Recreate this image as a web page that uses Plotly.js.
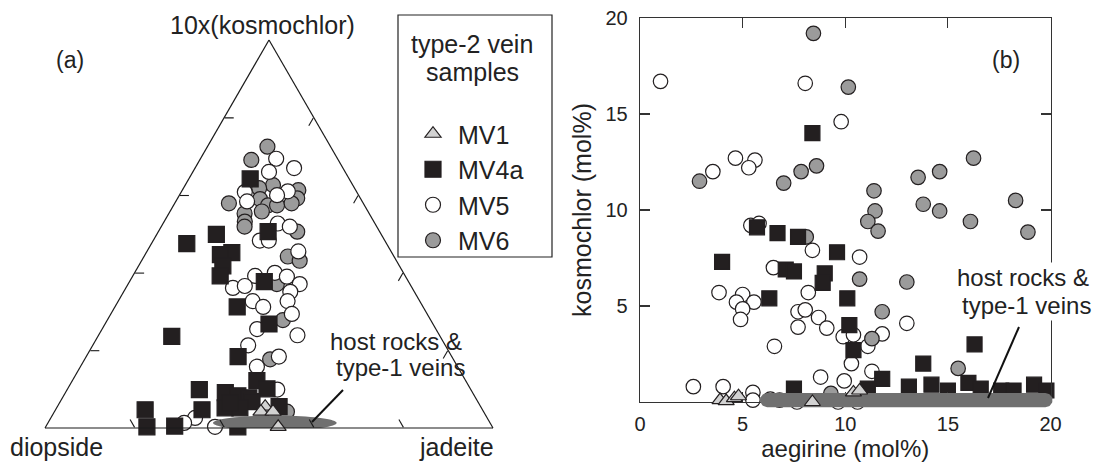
<!DOCTYPE html>
<html>
<head>
<meta charset="utf-8">
<script src="https://cdn.plot.ly/plotly-3.0.1.min.js"></script>
<style>html,body{margin:0;padding:0;background:#fff;}#chart{width:1098px;height:463px;}</style>
</head>
<body>
<div id="chart"></div>
<script>
// ---------- Panel (a): ternary, a = 10x(kosmochlor), c = jadeite (normalised %, diopside = remainder)
const mv1_tern_a = [5.5, 4.2, 4.2, 0.3];
const mv1_tern_c = [46.4, 46.1, 48.8, 51.9];

const mv4a_tern_a = [64.2, 49.9, 47.5, 45.2, 44.7, 41.8, 39.2, 50.6, 37.7, 31.2, 26.8, 23.6, 18.4, 12.2, 10.1, 9.9, 9.1, 8.3, 7.8, 6.8, 5.2, 5.2, 4.7, 5.5, 4.7, 0.5, 0.3, 0.3, 6.5];
const mv4a_tern_c = [13.7, 13.3, 7.9, 19.1, 16.8, 18.8, 19.5, 24.5, 30.1, 27.3, 36.6, 16.5, 33.9, 41.2, 44.5, 29.5, 35.7, 38.9, 41.6, 42.8, 37.6, 40.9, 32.7, 49.5, 20.0, 28.7, 22.6, 42.9, 38.1];

const mv5_tern_a = [69.4, 67.0, 66.0, 60.8, 61.0, 60.0, 58.4, 52.7, 51.9, 48.3, 48.3, 45.5, 39.2, 40.0, 39.0, 37.1, 36.1, 36.6, 35.1, 32.7, 32.7, 31.2, 29.4, 25.5, 23.9, 21.3, 18.4, 15.8, 9.9, 8.1, 2.6, 1.3, 0.3];
const mv5_tern_c = [16.9, 22.1, 17.0, 14.2, 23.7, 21.8, 15.9, 25.6, 28.7, 23.8, 25.8, 33.8, 27.3, 31.3, 34.5, 38.3, 23.9, 26.3, 37.2, 30.0, 37.8, 33.1, 40.4, 34.6, 44.4, 34.7, 43.0, 39.4, 46.9, 39.3, 32.2, 30.4, 37.8];

const mv6_tern_a = [72.5, 69.1, 62.6, 61.8, 61.3, 59.2, 57.9, 59.0, 57.4, 57.4, 57.9, 55.3, 55.8, 53.2, 51.9, 50.6, 44.2, 43.1, 37.1, 27.8, 17.7, 4.2];
const mv6_tern_c = [13.4, 11.5, 19.6, 16.9, 25.9, 26.7, 12.1, 18.5, 21.1, 23.1, 26.1, 16.9, 20.5, 18.0, 18.6, 31.0, 32.1, 35.3, 33.2, 39.2, 41.4, 51.9];

// ---------- Panel (b): aegirine (x) vs kosmochlor (y), mol%
const mv1_aeg = [3.9, 4.2, 4.6, 4.8, 8.4, 10.4, 10.7];
const mv1_ko  = [0.1, 0.05, 0.2, 0.3, 0.0, 0.5, 0.6];

const mv4a_aeg = [8.4, 5.7, 6.7, 7.7, 4.0, 7.1, 7.5, 9.6, 9.0, 8.9, 6.3, 10.1, 10.2, 10.4, 16.3, 13.8, 11.8, 7.5, 11.1, 13.1, 14.2, 15.0, 16.0, 16.6, 17.6, 18.2, 19.2, 19.8, 18.3, 14.5];
const mv4a_ko  = [14.0, 9.1, 8.8, 8.6, 7.3, 6.9, 6.8, 7.8, 6.7, 6.2, 5.4, 5.4, 4.0, 2.7, 3.0, 2.0, 1.2, 0.7, 0.7, 0.8, 0.9, 0.6, 1.0, 0.7, 0.6, 0.6, 0.9, 0.6, -0.1, -0.1];

const mv5_aeg = [1.0, 8.05, 9.8, 3.55, 4.65, 5.6, 5.3, 5.4, 5.8, 8.4, 6.5, 10.7, 3.85, 5.0, 4.7, 5.55, 5.0, 4.9, 8.2, 7.7, 8.05, 7.7, 8.7, 9.1, 9.9, 10.4, 11.1, 6.55, 10.3, 11.3, 8.8, 9.95, 13.0, 11.8, 2.6, 4.05, 5.5, 5.5, 6.35, 6.8, 7.65, 9.65, 10.6, 12.2, 13.1, 13.9];
const mv5_ko  = [16.7, 16.6, 14.6, 12.0, 12.7, 12.6, 12.2, 9.2, 9.3, 7.9, 7.0, 7.55, 5.7, 5.6, 5.2, 5.2, 4.85, 4.3, 5.7, 4.7, 4.8, 3.9, 4.4, 3.85, 3.4, 3.5, 2.9, 2.9, 2.0, 1.6, 1.3, 1.1, 4.1, 3.55, 0.8, 0.8, 0.5, 0.1, 0.15, 0.1, 0.0, 0.0, 0.0, -0.05, -0.05, -0.05];

const mv6_aeg = [8.45, 10.15, 2.9, 7.0, 7.85, 8.6, 8.1, 16.25, 13.55, 14.6, 11.4, 11.45, 11.1, 11.6, 13.8, 14.6, 16.1, 18.3, 18.9, 10.7, 13.0, 11.8, 11.3, 15.5, 9.3];
const mv6_ko  = [19.2, 16.4, 11.5, 11.4, 12.0, 12.3, 8.6, 12.7, 11.7, 12.0, 11.0, 9.95, 9.4, 8.9, 10.3, 9.95, 9.4, 10.5, 8.85, 6.4, 6.25, 4.7, 3.3, 1.75, 0.45];

const xTicks = [0, 5, 10, 15, 20];
const yTicks = [5, 10, 15, 20];
const legendTitleLines = ['type-2 vein', 'samples'];

// host rocks & type-1 veins field (outline parameters)
const hostTern = {a0: 1.3, x0: 51.3, rx: 13.8, ra: 1.9};        // ternary units
const hostXY = {x0: 5.85, x1: 20.1, yc: 0.1, ry: 0.37, rx: 0.35};  // data units

// ---------- styles
const FONT = 'Liberation Sans, Arial, Helvetica, sans-serif';
const OUT = '#231f20';
const sty = {
  MV1:  {symbol: 'triangle-up', color: '#d2d2d2', sizeA: 14, sizeB: 14},
  MV4a: {symbol: 'square', color: '#231f20', sizeA: 16, sizeB: 15},
  MV5:  {symbol: 'circle', color: '#ffffff', sizeA: 15, sizeB: 14.5},
  MV6:  {symbol: 'circle', color: '#9b9b9b', sizeA: 15, sizeB: 14.5}
};

function ternTrace(name, a, c, rank) {
  const s = sty[name];
  return {type: 'scatterternary', mode: 'markers', name: name, a: a, c: c, subplot: 'ternary',
    legendgroup: name, legendrank: rank, cliponaxis: false, hoverinfo: 'a+c+name',
    marker: {symbol: s.symbol, size: s.sizeA, color: s.color, line: {color: OUT, width: 1.2}}};
}
function xyTrace(name, x, y, xa, ya) {
  const s = sty[name];
  return {type: 'scatter', mode: 'markers', name: name, x: x, y: y, xaxis: xa || 'x', yaxis: ya || 'y',
    legendgroup: name, showlegend: false, cliponaxis: false,
    marker: {symbol: s.symbol, size: s.sizeB, color: s.color, line: {color: OUT, width: 1.2}}};
}

// host field outlines
const hA = [], hC = [];
for (let i = 0; i <= 72; i++) {
  const t = 2 * Math.PI * i / 72;
  const a = hostTern.a0 + hostTern.ra * Math.sin(t);
  const x = hostTern.x0 + hostTern.rx * Math.cos(t);
  hA.push(a); hC.push(x - a / 2);
}
const hX = [], hY = [];
for (let i = 0; i <= 24; i++) {
  const t = -Math.PI / 2 + Math.PI * i / 24;
  hX.push(hostXY.x1 - hostXY.rx + hostXY.rx * Math.cos(t)); hY.push(hostXY.yc + hostXY.ry * Math.sin(t));
}
for (let i = 0; i <= 24; i++) {
  const t = Math.PI / 2 + Math.PI * i / 24;
  hX.push(hostXY.x0 + hostXY.rx + hostXY.rx * Math.cos(t)); hY.push(hostXY.yc + hostXY.ry * Math.sin(t));
}

const data = [
  ternTrace('MV6', mv6_tern_a, mv6_tern_c, 4),
  ternTrace('MV5', mv5_tern_a, mv5_tern_c, 3),
  ternTrace('MV4a', mv4a_tern_a, mv4a_tern_c, 2),
  {type: 'scatterternary', mode: 'lines', a: hA, c: hC, fill: 'toself', fillcolor: '#707070',
   line: {width: 0, color: '#707070'}, showlegend: false, hoverinfo: 'skip', subplot: 'ternary'},
  ternTrace('MV1', mv1_tern_a, mv1_tern_c, 1),
  xyTrace('MV5', mv5_aeg, mv5_ko),
  xyTrace('MV6', mv6_aeg, mv6_ko),
  xyTrace('MV4a', mv4a_aeg, mv4a_ko),
  // band + MV1 on a twin subplot (same scale) whose clip area reaches a little below y = 0
  {type: 'scatter', mode: 'lines', x: hX, y: hY, fill: 'toself', fillcolor: '#707070',
   line: {width: 0, color: '#707070'}, showlegend: false, hoverinfo: 'skip', xaxis: 'x2', yaxis: 'y2'},
  xyTrace('MV1', mv1_aeg, mv1_ko, 'x2', 'y2')
];

const W = 1098, H = 463;
const px = v => v / W, py = v => 1 - v / H;
// panel (b) geometry: x 0..20 -> 640..1050.5 px ; y 0..20 -> 402..18 px
const XL = 640, XR = 1050.5, YB = 402, YT = 18;
const sx = (XR - XL) / 20, sy = (YB - YT) / 20;
const XR2 = 1062, YB2 = 412;

const tAxis = {showline: true, linecolor: '#1a1a1a', linewidth: 1.2, showgrid: false,
  ticks: 'inside', ticklen: 9, tickwidth: 1.1, tickcolor: '#1a1a1a',
  tickmode: 'array', tickvals: [20, 40, 60, 80], showticklabels: false, title: {text: ''}};

const cAxis = {showline: true, linecolor: '#333', linewidth: 1.3, mirror: 'ticks', ticks: 'inside',
  ticklen: 10, tickwidth: 1.2, tickcolor: '#333', showgrid: false, zeroline: false,
  tickfont: {family: FONT, size: 20, color: '#222'}};

const ann = (text, x, y, size, extra) => Object.assign({text: text, x: px(x), y: py(y), xref: 'paper', yref: 'paper',
  showarrow: false, xanchor: 'center', yanchor: 'middle', font: {size: size}}, extra || {});

const layout = {
  width: W, height: H, margin: {l: 0, r: 0, t: 0, b: 0},
  paper_bgcolor: '#fff', plot_bgcolor: 'rgba(0,0,0,0)',
  font: {family: FONT, color: '#222'},
  showlegend: true,
  ternary: {
    domain: {x: [px(45), px(493)], y: [py(428), py(40)]},
    sum: 100, bgcolor: '#fff',
    aaxis: tAxis, baxis: tAxis, caxis: tAxis
  },
  xaxis: Object.assign({}, cAxis, {domain: [px(XL), px(XR)], range: [0, 20], tickmode: 'array', tickvals: xTicks,
    ticklabelstandoff: 4,
    title: {text: 'aegirine (mol%)', font: {family: FONT, size: 24, color: '#222'}, standoff: 2}}),
  yaxis: Object.assign({}, cAxis, {domain: [py(YB), py(YT)], range: [0, 20], tickmode: 'array', tickvals: yTicks,
    ticklabelstandoff: 7,
    title: {text: 'kosmochlor (mol%)', font: {family: FONT, size: 25, color: '#222'}, standoff: 6}}),
  xaxis2: {domain: [px(XL), px(XR2)], range: [0, (XR2 - XL) / sx], visible: false, anchor: 'y2', fixedrange: true},
  yaxis2: {domain: [py(YB2), py(YT)], range: [-(YB2 - YB) / sy, 20], visible: false, anchor: 'x2', fixedrange: true},
  legend: {x: px(398), y: py(111), xanchor: 'left', yanchor: 'top', bgcolor: 'rgba(0,0,0,0)',
    borderwidth: 0, font: {family: FONT, size: 25, color: '#222'},
    traceorder: 'grouped', tracegroupgap: 0, indentation: 10, itemwidth: 40},
  shapes: [
    {type: 'rect', xref: 'paper', yref: 'paper', x0: px(398), y0: py(257), x1: px(552), y1: py(15), line: {color: '#222', width: 1.2}, fillcolor: 'rgba(0,0,0,0)'},
    {type: 'line', xref: 'paper', yref: 'paper', x0: px(312), y0: py(422), x1: px(343), y1: py(390), line: {color: '#111', width: 2}},
    {type: 'line', xref: 'paper', yref: 'paper', x0: px(988), y0: py(398), x1: px(1019), y1: py(327), line: {color: '#111', width: 2}}
  ],
  annotations: [
    ann('10x(kosmochlor)', 262, 25, 25),
    ann('diopside', 8, 447, 25, {xanchor: 'left'}),
    ann('jadeite', 456, 447, 25),
    ann('(a)', 70, 60, 23),
    ann('(b)', 1006, 60, 23),
    ann(legendTitleLines[0], 472, 44, 25),
    ann(legendTitleLines[1], 472, 72, 25),
    ann('host rocks &', 396, 341, 24),
    ann('type-1 veins', 400, 367, 24),
    ann('host rocks &', 1023, 277, 24, {bgcolor: '#fff'}),
    ann('type-1 veins', 1026, 305, 24, {bgcolor: '#fff'})
  ]
};

Plotly.newPlot('chart', data, layout, {displayModeBar: false, staticPlot: true});
</script>
</body>
</html>
